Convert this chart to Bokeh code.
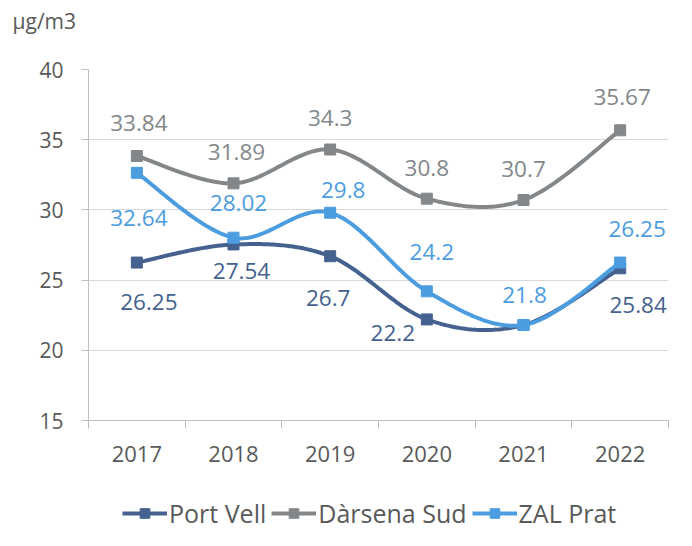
import numpy as np
from bokeh.plotting import figure
from bokeh.layouts import column
from bokeh.models import Range1d, FixedTicker, Legend, LegendItem, ColumnDataSource
from bokeh.core.properties import value
from bokeh.embed import file_html
from bokeh.resources import INLINE

years = ["2017", "2018", "2019", "2020", "2021", "2022"]
port_vell = [26.25, 27.54, 26.7, 22.2, 21.8, 25.84]
darsena_sud = [33.84, 31.89, 34.3, 30.8, 30.7, 35.67]
zal_prat = [32.64, 28.02, 29.8, 24.2, 21.8, 26.25]
port_vell_labels = ["26.25", "27.54", "26.7", "22.2", "", "25.84"]
darsena_labels = ["33.84", "31.89", "34.3", "30.8", "30.7", "35.67"]
zal_labels = ["32.64", "28.02", "29.8", "24.2", "21.8", "26.25"]
y_ticks = [15, 20, 25, 30, 35, 40]
unit = "µg/m3"

FONT = "Open Sans"
C_PV = "#44618F"
C_DS = "#838789"
C_ZP = "#4C9DE0"
TXT = "#595959"

# label offsets (screen px) - style only
pv_dx = [12, 8, -2, -34, 0, 18]
pv_dy = [39, 27, 42, 14, 0, 37]
ds_dx = [2, 3, 0, 0, 0, 2]
ds_dy = [-33, -31, -32, -31, -31, -33]
zp_dx = [2, 5, 13, 5, 1, 17]
zp_dy = [45, -35, -23, -39, -30, -34]

xs = np.arange(len(years)) + 0.5


def smooth(x, y, n=40):
    pts = np.column_stack([x, y]).astype(float)
    P = np.vstack([pts[0], pts, pts[-1]])
    out = []
    for i in range(len(pts) - 1):
        p0, p1, p2, p3 = P[i], P[i + 1], P[i + 2], P[i + 3]
        c1 = p1 + (p2 - p0) / 6.0
        c2 = p2 - (p3 - p1) / 6.0
        t = np.linspace(0, 1, n)[:, None]
        seg = (1 - t) ** 3 * p1 + 3 * (1 - t) ** 2 * t * c1 + 3 * (1 - t) * t ** 2 * c2 + t ** 3 * p2
        out.append(seg if i == 0 else seg[1:])
    s = np.vstack(out)
    return s[:, 0], s[:, 1]


# unit strip on top
W = 676
top = figure(width=W, height=40, output_backend="svg", toolbar_location=None,
             x_range=Range1d(0, W), y_range=Range1d(0, 40), x_axis_type=None, y_axis_type=None,
             min_border=0, outline_line_color=None)
top.frame_align = False
top.xgrid.grid_line_color = None
top.ygrid.grid_line_color = None
top.text(x=[12], y=[20], text=[unit], text_font=value(FONT), text_font_size="21px",
         text_color=TXT, text_align="left", text_baseline="middle")

p = figure(width=W, height=456, output_backend="svg", toolbar_location=None,
           x_range=Range1d(0, len(years)), y_range=Range1d(15, 40),
           min_border_left=88, min_border_right=8, min_border_top=29, min_border_bottom=76)
p.outline_line_color = None
p.background_fill_color = "white"
p.border_fill_color = "white"

p.xgrid.grid_line_color = None
p.ygrid.grid_line_color = "#D9D9D9"
p.ygrid.grid_line_width = 1
p.yaxis.ticker = FixedTicker(ticks=y_ticks)
p.xaxis.ticker = FixedTicker(ticks=list(xs), minor_ticks=list(range(len(years) + 1)))
p.xaxis.major_label_overrides = {float(x): yr for x, yr in zip(xs, years)}
p.xaxis.major_tick_out = 0
p.xaxis.major_tick_in = 0
p.xaxis.minor_tick_out = 8
p.xaxis.minor_tick_in = 0
p.xaxis.minor_tick_line_color = "#BFBFBF"
p.xaxis.major_label_standoff = 17
p.xaxis.major_label_text_font_size = "22px"
p.yaxis.major_tick_out = 7
p.yaxis.major_tick_in = 0
p.yaxis.minor_tick_line_color = None
p.yaxis.major_tick_line_color = "#BFBFBF"
p.yaxis.major_label_standoff = 18
p.yaxis.major_label_text_font_size = "21px"
for ax in (p.xaxis, p.yaxis):
    ax.axis_line_color = "#BFBFBF"
    ax.axis_line_width = 1
    ax.major_label_text_font = FONT
    ax.major_label_text_color = TXT

series = [
    ("Port Vell", port_vell, port_vell_labels, C_PV, pv_dx, pv_dy),
    ("Dàrsena Sud", darsena_sud, darsena_labels, C_DS, ds_dx, ds_dy),
    ("ZAL Prat", zal_prat, zal_labels, C_ZP, zp_dx, zp_dy),
]

for name, vals, labs, col, dx, dy in series:
    sx, sy = smooth(xs, vals)
    p.line(sx, sy, line_color=col, line_width=4)
    p.scatter(xs, vals, marker="square", size=11, fill_color=col, line_color=col)

for name, vals, labs, col, dx, dy in series:
    src = ColumnDataSource(dict(x=xs, y=vals, t=labs, dx=dx, dy=dy))
    p.text(x="x", y="y", text="t", x_offset="dx", y_offset="dy", source=src,
           text_font=value(FONT), text_font_size="22.5px", text_color=col,
           text_align="center", text_baseline="middle")

# legend strip
lg = figure(width=W, height=34, output_backend="svg", toolbar_location=None,
            x_range=Range1d(0, 1), y_range=Range1d(0, 1), x_axis_type=None, y_axis_type=None,
            min_border=0, outline_line_color=None)
lg.xgrid.grid_line_color = None
lg.ygrid.grid_line_color = None
items = []
for name, vals, labs, col, dx, dy in series:
    ln = lg.line(xs, vals, line_color=col, line_width=4)
    mk = lg.scatter(xs, vals, marker="square", size=11, fill_color=col, line_color=col)
    items.append(LegendItem(label=name, renderers=[ln, mk]))
legend = Legend(items=items, orientation="horizontal", location=(34, 0),
                label_text_font=FONT, label_text_font_size="25px", label_text_color=TXT,
                glyph_width=45, glyph_height=24, label_standoff=2, spacing=5,
                border_line_color=None, background_fill_alpha=0, padding=0, margin=0)
lg.add_layout(legend, "center")

layout = column(top, p, lg, spacing=0)
open("out.html", "w").write(file_html(layout, INLINE))
